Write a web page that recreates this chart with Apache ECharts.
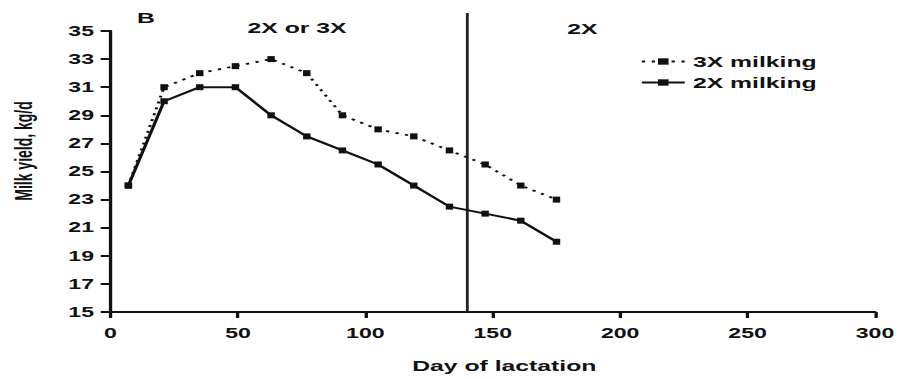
<!DOCTYPE html>
<html><head><meta charset="utf-8">
<script src="https://cdn.jsdelivr.net/npm/echarts@6/dist/echarts.min.js"></script>
<style>
html,body{margin:0;padding:0;background:#fff;overflow:hidden;width:899px;height:379px;}
#chart{width:545px;height:379px;transform:scaleX(1.65);transform-origin:0 0;}
</style></head><body><div id="chart"></div>
<script>
// Data (day of lactation vs. milk yield, kg/d)
const days = [7, 21, 35, 49, 63, 77, 91, 105, 119, 133, 147, 161, 175];
const milk3X = [24, 31, 32, 32.5, 33, 32, 29, 28, 27.5, 26.5, 25.5, 24, 23];
const milk2X = [24, 30, 31, 31, 29, 27.5, 26.5, 25.5, 24, 22.5, 22, 21.5, 20];
const switchDay = 140;
const xTicks = {min: 0, max: 300, interval: 50};
const yTicks = {min: 15, max: 35, interval: 2};
const seriesNames = ['3X milking', '2X milking'];

const FONT = 'Liberation Sans, Arial, Helvetica, sans-serif';
const chart = echarts.init(document.getElementById('chart'), null, {renderer: 'svg'});
const pair = (xs, ys) => xs.map((x, i) => [x, ys[i]]);

chart.setOption({
  animation: false,
  backgroundColor: '#fff',
  grid: {left: 67, right: 14, top: 31, bottom: 67, containLabel: false},
  xAxis: {
    type: 'value', min: xTicks.min, max: xTicks.max, interval: xTicks.interval,
    name: 'Day of lactation', nameLocation: 'middle', nameGap: 46,
    nameTextStyle: {fontFamily: FONT, fontWeight: 'bold', fontSize: 15, color: '#111', padding: [0, 0, 0, 14]},
    axisLine: {show: true, lineStyle: {color: '#111', width: 2}},
    axisTick: {show: true, length: 6, lineStyle: {color: '#111', width: 2}},
    axisLabel: {margin: 14, fontFamily: FONT, fontWeight: 'bold', fontSize: 14, color: '#111'},
    splitLine: {show: false}
  },
  yAxis: {
    type: 'value', min: yTicks.min, max: yTicks.max, interval: yTicks.interval,
    axisLine: {show: true, lineStyle: {color: '#111', width: 2}},
    axisTick: {show: true, length: 6, lineStyle: {color: '#111', width: 2}},
    axisLabel: {margin: 10, fontFamily: FONT, fontWeight: 'bold', fontSize: 14, color: '#111'},
    splitLine: {show: false}
  },
  legend: {
    data: seriesNames, orient: 'vertical', left: 388, top: 54, padding: 0,
    itemWidth: 26, itemHeight: 8, itemGap: 6,
    textStyle: {fontFamily: FONT, fontWeight: 'bold', fontSize: 15, color: '#111'}
  },
  graphic: [
    {type: 'text', left: 83, top: 10, style: {text: 'B', font: 'bold 15px ' + FONT, fill: '#111'}},
    {type: 'text', x: 180, y: 28, style: {text: '2X or 3X', font: 'bold 15px ' + FONT, fill: '#111', align: 'center', verticalAlign: 'middle'}},
    {type: 'text', x: 353, y: 28.5, style: {text: '2X', font: 'bold 15px ' + FONT, fill: '#111', align: 'center', verticalAlign: 'middle'}},
    {type: 'text', x: 14.5, y: 151, rotation: Math.PI / 2, style: {text: 'Milk yield, kg/d', font: 'bold 14px ' + FONT, fill: '#111', align: 'center', verticalAlign: 'middle'}}
  ],
  series: [
    {
      type: 'custom', name: 'switch', silent: true, clip: false, z: 1,
      data: [[switchDay, yTicks.min]],
      renderItem: function (params, api) {
        const x = api.value(0);
        const p0 = api.coord([x, yTicks.min]);
        const p1 = api.coord([x, yTicks.max]);
        return {type: 'line', shape: {x1: p0[0], y1: p0[1], x2: p1[0], y2: p1[1] - 18},
                style: {stroke: '#222', lineWidth: 1.7}};
      }
    },
    {
      type: 'line', name: seriesNames[0], data: pair(days, milk3X), z: 3,
      symbol: 'rect', symbolSize: [4.5, 6], showSymbol: true,
      itemStyle: {color: '#111'},
      lineStyle: {color: '#111', width: 1.8, type: [2, 4]}
    },
    {
      type: 'line', name: seriesNames[1], data: pair(days, milk2X), z: 4,
      symbol: 'rect', symbolSize: [4.5, 6], showSymbol: true,
      itemStyle: {color: '#111'},
      lineStyle: {color: '#111', width: 2, type: 'solid'}
    }
  ]
});
</script></body></html>
